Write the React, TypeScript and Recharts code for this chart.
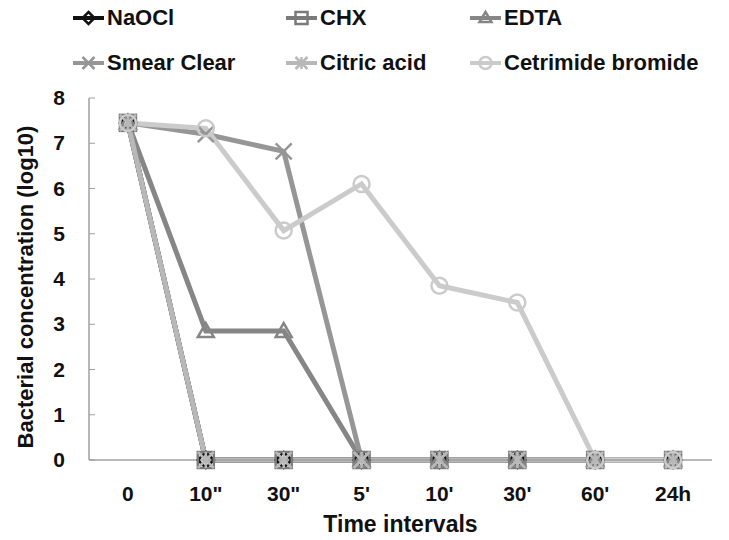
import React from 'react';
import { LineChart, Line, XAxis, YAxis, Label } from 'recharts';

const timeLabels = ['0', '10"', '30"', "5'", "10'", "30'", "60'", '24h'];

const naocl = [7.45, 0, 0, 0, 0, 0, 0, 0];
const chx = [7.45, 0, 0, 0, 0, 0, 0, 0];
const edta = [7.45, 2.85, 2.85, 0, 0, 0, 0, 0];
const smearClear = [7.45, 7.2, 6.82, 0, 0, 0, 0, 0];
const citricAcid = [7.45, 0, 0, 0, 0, 0, 0, 0];
const cetrimide = [7.45, 7.33, 5.07, 6.1, 3.85, 3.48, 0, 0];

const yTicks = [0, 1, 2, 3, 4, 5, 6, 7, 8];
const boundaryTicks = [-0.5, 0.5, 1.5, 2.5, 3.5, 4.5, 5.5, 6.5, 7.5];

type Shape = 'diamond' | 'square' | 'triangle' | 'x' | 'star' | 'circle';

const series: { key: string; name: string; color: string; shape: Shape; values: number[] }[] = [
  { key: 'naocl', name: 'NaOCl', color: '#111111', shape: 'diamond', values: naocl },
  { key: 'chx', name: 'CHX', color: '#7a7a7a', shape: 'square', values: chx },
  { key: 'edta', name: 'EDTA', color: '#868686', shape: 'triangle', values: edta },
  { key: 'smear', name: 'Smear Clear', color: '#969696', shape: 'x', values: smearClear },
  { key: 'citric', name: 'Citric acid', color: '#b8b8b8', shape: 'star', values: citricAcid },
  { key: 'cetri', name: 'Cetrimide bromide', color: '#cbcbcb', shape: 'circle', values: cetrimide },
];

const data = timeLabels.map((t, i) => {
  const row: any = { idx: i, time: t };
  series.forEach((s) => {
    row[s.key] = s.values[i];
  });
  return row;
});

const font = '"Liberation Sans", Arial, sans-serif';
const axisGray = '#a0a0a0';

function Marker({ cx, cy, shape, color, r = 8 }: { cx: number; cy: number; shape: Shape; color: string; r?: number }) {
  const sw = 2.5;
  if (shape === 'diamond') {
    return <polygon points={`${cx},${cy - r} ${cx + r},${cy} ${cx},${cy + r} ${cx - r},${cy}`} fill="none" stroke={color} strokeWidth={sw} />;
  }
  if (shape === 'square') {
    return <rect x={cx - r} y={cy - r} width={2 * r} height={2 * r} fill="none" stroke={color} strokeWidth={sw} />;
  }
  if (shape === 'triangle') {
    return <polygon points={`${cx},${cy - r} ${cx + r},${cy + r - 2} ${cx - r},${cy + r - 2}`} fill="none" stroke={color} strokeWidth={sw} />;
  }
  if (shape === 'x') {
    return (
      <g stroke={color} strokeWidth={sw}>
        <line x1={cx - r} y1={cy - r} x2={cx + r} y2={cy + r} />
        <line x1={cx - r} y1={cy + r} x2={cx + r} y2={cy - r} />
      </g>
    );
  }
  if (shape === 'star') {
    return (
      <g stroke={color} strokeWidth={sw}>
        <line x1={cx - r} y1={cy - r} x2={cx + r} y2={cy + r} />
        <line x1={cx - r} y1={cy + r} x2={cx + r} y2={cy - r} />
        <line x1={cx} y1={cy - r} x2={cx} y2={cy + r} />
      </g>
    );
  }
  return <circle cx={cx} cy={cy} r={r} fill="none" stroke={color} strokeWidth={sw} />;
}

const renderDot = (shape: Shape, color: string) => (p: any) => (
  <Marker key={`${shape}-${p.index}`} cx={p.cx} cy={p.cy} shape={shape} color={color} />
);

// y tick: label left of the axis, small tick mark pointing into the plot
const Y_MARGIN = 24;
const YTick = (p: any) => (
  <g>
    <line x1={p.x + Y_MARGIN} y1={p.y} x2={p.x + Y_MARGIN + 6} y2={p.y} stroke={axisGray} />
    <text x={p.x} y={p.y} dy={7} textAnchor="end" fill="#111" fontSize={21} fontWeight={700} fontFamily={font}>
      {p.payload.value}
    </text>
  </g>
);

// x boundary tick marks pointing up into the plot
const XMarkTick = (p: any) => <line x1={p.x} y1={p.y} x2={p.x} y2={p.y - 6} stroke={axisGray} />;

function LegendItem({ name, color, shape }: { name: string; color: string; shape: Shape }) {
  return (
    <div style={{ display: 'flex', alignItems: 'center', height: 45 }}>
      <svg width={31} height={20} style={{ marginRight: 3 }}>
        <line x1={0} y1={10} x2={31} y2={10} stroke={color} strokeWidth={4} />
        <Marker cx={15.5} cy={10} shape={shape} color={color} r={6} />
      </svg>
      <span style={{ fontFamily: font, fontWeight: 700, fontSize: 22, color: '#111' }}>{name}</span>
    </div>
  );
}

export default function App() {
  return (
    <div style={{ position: 'relative', width: 729, height: 540, margin: -8, background: '#fff' }}>
      <div
        style={{
          position: 'absolute',
          left: 73,
          top: -5,
          display: 'grid',
          gridTemplateColumns: '213px 184px 240px',
        }}
      >
        {series.map((s) => (
          <LegendItem key={s.key} name={s.name} color={s.color} shape={s.shape} />
        ))}
      </div>
      <LineChart width={729} height={540} data={data} margin={{ top: 98, right: 17, bottom: 20, left: 29 }}>
        <XAxis
          xAxisId="marks"
          type="number"
          dataKey="idx"
          domain={[-0.5, 7.5]}
          ticks={boundaryTicks}
          interval={0}
          tick={XMarkTick}
          axisLine={false}
          tickLine={false}
          tickSize={0}
          tickMargin={0}
          height={0}
        />
        <XAxis
          type="number"
          dataKey="idx"
          domain={[-0.5, 7.5]}
          ticks={timeLabels.map((_, i) => i)}
          interval={0}
          tickFormatter={(i: number) => timeLabels[i]}
          tickLine={false}
          tickSize={0}
          tickMargin={26}
          axisLine={{ stroke: axisGray, strokeWidth: 1.5 }}
          tick={{ fill: '#111', fontSize: 21, fontWeight: 700, fontFamily: font }}
          height={60}
        >
          <Label
            value="Time intervals"
            position="insideBottom"
            offset={-12}
            style={{ fill: '#111', fontSize: 23, fontWeight: 700, fontFamily: font }}
          />
        </XAxis>
        <YAxis
          domain={[0, 8]}
          ticks={yTicks}
          interval={0}
          width={60}
          tickLine={false}
          tickSize={0}
          tickMargin={Y_MARGIN}
          axisLine={{ stroke: axisGray, strokeWidth: 1.5 }}
          tick={YTick}
        >
          <Label
            content={(props: any) => {
              const vb = props.viewBox;
              const x = vb.x + 4;
              const y = 287;
              return (
                <text
                  x={x}
                  y={y}
                  transform={`rotate(-90 ${x} ${y})`}
                  textAnchor="middle"
                  style={{ fill: '#111', fontSize: 22, fontWeight: 700, fontFamily: font }}
                >
                  Bacterial concentration (log10)
                </text>
              );
            }}
          />
        </YAxis>
        {series.map((s) => (
          <Line
            key={s.key}
            dataKey={s.key}
            name={s.name}
            stroke={s.color}
            strokeWidth={5}
            dot={renderDot(s.shape, s.color)}
            activeDot={false}
            isAnimationActive={false}
          />
        ))}
      </LineChart>
    </div>
  );
}
